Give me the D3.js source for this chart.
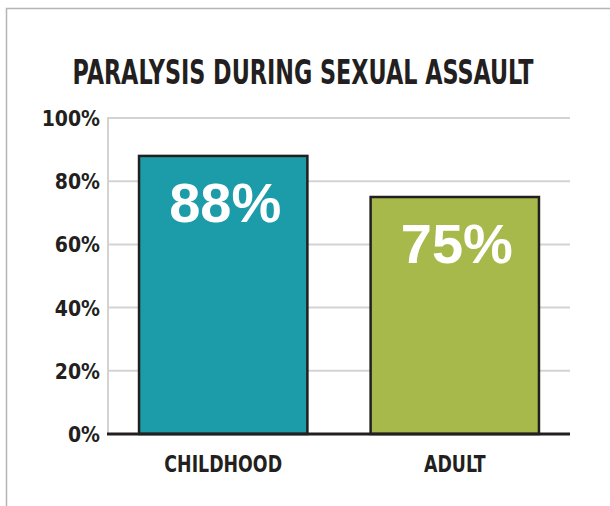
<!DOCTYPE html>
<html>
<head>
<meta charset="utf-8">
<script src="https://cdn.jsdelivr.net/npm/d3@7"></script>
<style>
  body { margin: 0; background: #fff; }
  svg { display: block; }
  .tick-label { font-family: 'DejaVu Sans Condensed', 'Liberation Sans', sans-serif; font-weight: bold; fill: #231f20; }
</style>
</head>
<body>
<svg></svg>
<script>
var categories = ['CHILDHOOD', 'ADULT'];
var values = [88, 75];
var barColors = ['#1b9ca8', '#a6b94a'];
var yTicks = [0, 20, 40, 60, 80, 100];
var title = 'PARALYSIS DURING SEXUAL ASSAULT';

var width = 610;
var height = 506;
var margin = {top: 118, right: 40, bottom: 72, left: 108};

var svg = d3.select('svg')
  .attr('width', width)
  .attr('height', height);

// outer frame (only top and left visible, rest runs off the page)
svg.append('rect')
  .attr('x', 6.5)
  .attr('y', 8.5)
  .attr('width', 700)
  .attr('height', 700)
  .attr('fill', 'none')
  .attr('stroke', '#b5b5b5')
  .attr('stroke-width', 1.5);

// title, squeezed horizontally to mimic a condensed face
svg.append('text')
  .attr('transform', 'translate(303,84) scale(0.73,1)')
  .attr('text-anchor', 'middle')
  .style('font-family', "'DejaVu Sans Condensed', sans-serif")
  .style('font-weight', 'bold')
  .style('font-size', '34px')
  .style('fill', '#231f20')
  .text(title);

var scaleX = d3.scaleBand()
  .domain(categories)
  .range([margin.left, width - margin.right])
  .paddingInner(0.273)
  .paddingOuter(0.134);

var scaleY = d3.scaleLinear()
  .domain([0, 100])
  .range([height - margin.bottom, margin.top]);

// gridlines
svg.append('g')
  .selectAll('line')
  .data(yTicks.filter(function(d) { return d > 0; }))
  .enter().append('line')
  .attr('x1', margin.left)
  .attr('x2', width - margin.right)
  .attr('y1', function(d) { return scaleY(d); })
  .attr('y2', function(d) { return scaleY(d); })
  .attr('stroke', '#d3d3d3')
  .attr('stroke-width', 2);

svg.append('line')
  .attr('x1', margin.left)
  .attr('x2', margin.left)
  .attr('y1', scaleY(100) - 1)
  .attr('y2', scaleY(0))
  .attr('stroke', '#d3d3d3')
  .attr('stroke-width', 2);

// y labels
var yAxis = d3.axisLeft(scaleY)
  .tickValues(yTicks)
  .tickSize(0)
  .tickPadding(8)
  .tickFormat(function(d) { return d + '%'; });

var yG = svg.append('g')
  .attr('transform', 'translate(' + margin.left + ',0)')
  .call(yAxis);
yG.select('.domain').remove();
yG.selectAll('text')
  .attr('class', 'tick-label')
  .style('font-size', '21px')
  .attr('dy', '0.36em');

// bars
svg.append('g')
  .selectAll('rect')
  .data(values)
  .enter().append('rect')
  .attr('x', function(d, i) { return scaleX(categories[i]); })
  .attr('y', function(d) { return scaleY(d); })
  .attr('width', scaleX.bandwidth())
  .attr('height', function(d) { return scaleY(0) - scaleY(d); })
  .attr('fill', function(d, i) { return barColors[i]; })
  .attr('stroke', '#231f20')
  .attr('stroke-width', 2.5);

// value labels
svg.append('g')
  .selectAll('text')
  .data(values)
  .enter().append('text')
  .attr('x', function(d, i) { return scaleX(categories[i]) + scaleX.bandwidth() / 2 + 2; })
  .attr('y', function(d) { return scaleY(d) + 66; })
  .attr('text-anchor', 'middle')
  .style('font-family', "'Liberation Sans', Arial, sans-serif")
  .style('font-weight', 'bold')
  .style('font-size', '56px')
  .style('fill', '#fff')
  .text(function(d) { return d + '%'; });

// x axis
var xAxis = d3.axisBottom(scaleX)
  .tickSize(0)
  .tickPadding(22);

var xG = svg.append('g')
  .attr('transform', 'translate(0,' + scaleY(0) + ')')
  .call(xAxis);
xG.select('.domain')
  .attr('d', 'M' + (margin.left - 1) + ',0H' + (width - margin.right))
  .attr('stroke', '#231f20')
  .attr('stroke-width', 3);
xG.selectAll('text')
  .attr('class', 'tick-label')
  .style('font-size', '23px')
  .attr('transform', 'scale(0.84,1)');
</script>
</body>
</html>
